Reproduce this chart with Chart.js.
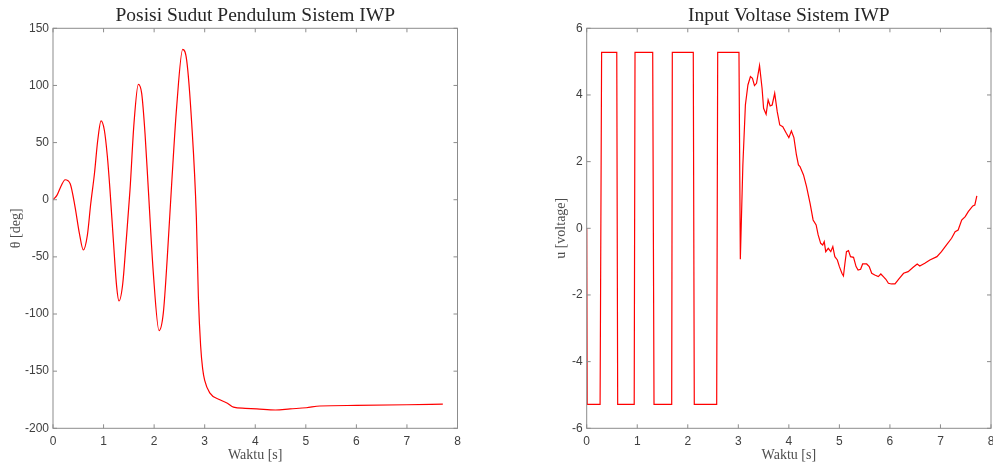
<!DOCTYPE html>
<html>
<head>
<meta charset="utf-8">
<script src="https://cdn.jsdelivr.net/npm/chart.js@4"></script>
<style>
  html, body { margin: 0; padding: 0; background: #fff; overflow: hidden; }
  body { width: 993px; height: 464px; position: relative; }
  canvas { position: absolute; top: 0; }
  #thetaChart { left: 0; }
  #voltChart { left: 533px; }
</style>
</head>
<body>
<canvas id="thetaChart" width="496" height="464"></canvas>
<canvas id="voltChart" width="480" height="464"></canvas>
<script>
// pendulum angle theta [deg] vs time [s]
const thetaTime = [0, 0.08, 0.16, 0.24, 0.34, 0.435, 0.52, 0.60, 0.68, 0.745,
  0.82, 0.885, 0.95, 1.015, 1.075, 1.127, 1.193, 1.259, 1.305, 1.378,
  1.444, 1.523, 1.602, 1.688, 1.754, 1.82, 1.886, 1.984, 2.097, 2.182,
  2.261, 2.347, 2.446, 2.565, 2.644, 2.743, 2.835, 2.875, 2.92, 2.96,
  3.0, 3.1, 3.3, 3.45, 3.57, 3.8, 4.03, 4.4, 4.69, 5.01,
  5.28, 6.0, 7.0, 7.71];
const thetaDeg = [0, 4, 12, 17.5, 14, -6, -29, -44, -31, -4,
  23, 52, 69, 61, 38, 8.6, -35, -76, -88.6, -74,
  -38, 8.6, 67, 101, 93, 58, 8.6, -64, -114.5, -99,
  -50, 14, 81.5, 131.5, 122, 67, -15, -85, -128, -148,
  -158, -169, -175, -178, -181.5, -182.5, -183, -184, -183, -182,
  -180.5, -180, -179.4, -178.8];

// control input u [V] vs time [s]
const voltTime = [0, 0.01, 0.265, 0.295, 0.595, 0.613, 0.94, 0.956, 1.306, 1.332,
  1.682, 1.694, 2.109, 2.129, 2.572, 2.592, 3.013, 3.04, 3.09, 3.14,
  3.19, 3.24, 3.28, 3.32, 3.36, 3.42, 3.47, 3.50, 3.55, 3.59,
  3.63, 3.67, 3.72, 3.77, 3.82, 3.88, 3.95, 4.00, 4.05, 4.10,
  4.15, 4.19, 4.22, 4.29, 4.35, 4.42, 4.48, 4.54, 4.58, 4.63,
  4.67, 4.70, 4.73, 4.78, 4.83, 4.87, 4.91, 4.96, 5.00, 5.05,
  5.08, 5.11, 5.14, 5.18, 5.22, 5.28, 5.33, 5.37, 5.42, 5.46,
  5.54, 5.59, 5.64, 5.70, 5.77, 5.82, 5.87, 5.92, 5.97, 6.03,
  6.10, 6.17, 6.27, 6.36, 6.46, 6.54, 6.59, 6.69, 6.79, 6.93,
  7.02, 7.12, 7.22, 7.29, 7.35, 7.42, 7.49, 7.55, 7.64, 7.68,
  7.72];
const voltValue = [0, -5.28, -5.28, 5.28, 5.28, -5.28, -5.28, 5.28, 5.28, -5.28,
  -5.28, 5.28, 5.28, -5.28, -5.28, 5.28, 5.28, -0.93, 1.9, 3.70,
  4.30, 4.55, 4.50, 4.28, 4.35, 4.88, 4.20, 3.60, 3.42, 3.85,
  3.67, 3.70, 4.05, 3.50, 3.10, 3.05, 2.85, 2.72, 2.92, 2.72,
  2.20, 1.90, 1.85, 1.60, 1.25, 0.75, 0.25, 0.10, -0.20, -0.45,
  -0.50, -0.40, -0.70, -0.60, -0.70, -0.55, -0.85, -0.95, -1.15, -1.35,
  -1.43, -1.05, -0.70, -0.67, -0.85, -0.87, -1.15, -1.25, -1.23, -1.07,
  -1.07, -1.15, -1.35, -1.40, -1.45, -1.37, -1.45, -1.53, -1.65, -1.67,
  -1.67, -1.53, -1.35, -1.30, -1.17, -1.07, -1.13, -1.05, -0.95, -0.85,
  -0.70, -0.50, -0.30, -0.10, -0.05, 0.25, 0.35, 0.50, 0.67, 0.70,
  0.97];

// tick labels
const timeTicks = [0, 1, 2, 3, 4, 5, 6, 7, 8];
const thetaTicks = [-200, -150, -100, -50, 0, 50, 100, 150];
const voltTicks = [-6, -4, -2, 0, 2, 4, 6];

const axisColor = "#8c8c8c";
const tickColor = "#404040";
const serif = "'Liberation Serif', 'Times New Roman', serif";
const sans = "'Liberation Sans', Arial, sans-serif";

// matlab style box with inward ticks on all four sides
const boxTicks = {
  id: "boxTicks",
  afterDraw(chart) {
    const { ctx, chartArea: a, scales } = chart;
    const len = 4;
    ctx.save();
    ctx.strokeStyle = axisColor;
    ctx.lineWidth = 1;
    ctx.strokeRect(a.left, a.top, a.right - a.left, a.bottom - a.top);
    ctx.beginPath();
    scales.x.ticks.forEach((t) => {
      const px = scales.x.getPixelForValue(t.value);
      ctx.moveTo(px, a.bottom);
      ctx.lineTo(px, a.bottom - len);
      ctx.moveTo(px, a.top);
      ctx.lineTo(px, a.top + len);
    });
    scales.y.ticks.forEach((t) => {
      const py = scales.y.getPixelForValue(t.value);
      ctx.moveTo(a.left, py);
      ctx.lineTo(a.left + len, py);
      ctx.moveTo(a.right, py);
      ctx.lineTo(a.right - len, py);
    });
    ctx.stroke();
    ctx.restore();
  },
};

function makeChart(el, opts) {
  return new Chart(el, {
    type: "line",
    data: {
      datasets: [
        {
          data: opts.xs.map((x, i) => ({ x, y: opts.ys[i] })),
          borderColor: "#ff0000",
          borderWidth: 1.2,
          pointRadius: 0,
          fill: false,
          tension: opts.smooth ? 0.4 : 0,
          cubicInterpolationMode: opts.smooth ? "monotone" : "default",
        },
      ],
    },
    options: {
      responsive: false,
      animation: false,
      events: [],
      layout: { padding: { left: 0, right: opts.padRight, top: 0, bottom: 0 } },
      plugins: {
        legend: { display: false },
        tooltip: { enabled: false },
        title: {
          display: true,
          fullSize: false,
          text: opts.title,
          color: "#262626",
          font: { family: serif, size: 19.5, weight: "normal", lineHeight: 1.2 },
          padding: { top: 4, bottom: 0.9 },
        },
      },
      scales: {
        x: {
          type: "linear",
          min: 0,
          max: 8,
          afterBuildTicks: (s) => {
            s.ticks = timeTicks.map((v) => ({ value: v }));
          },
          afterFit: (s) => {
            s.height = 35.7;
          },
          grid: { display: false, drawTicks: false },
          border: { display: false },
          ticks: {
            color: tickColor,
            font: { family: sans, size: 12 },
            padding: 6,
            maxRotation: 0,
            autoSkip: false,
          },
          title: {
            display: true,
            text: "Waktu [s]",
            color: "#4d4d4d",
            font: { family: serif, size: 14, lineHeight: 1.2 },
            padding: { top: 0, bottom: 0 },
          },
        },
        y: {
          type: "linear",
          min: opts.yTicks[0],
          max: opts.yTicks[opts.yTicks.length - 1],
          afterBuildTicks: (s) => {
            s.ticks = opts.yTicks.map((v) => ({ value: v }));
          },
          afterFit: (s) => {
            s.width = opts.yWidth;
          },
          grid: { display: false, drawTicks: false },
          border: { display: false },
          ticks: {
            color: tickColor,
            font: { family: sans, size: 12 },
            padding: 4,
            autoSkip: false,
          },
          title: {
            display: true,
            text: opts.yTitle,
            color: "#4d4d4d",
            font: { family: serif, size: 14, lineHeight: 1.2 },
            padding: { top: opts.yTitlePad, bottom: 0 },
          },
        },
      },
    },
    plugins: [boxTicks],
  });
}

makeChart(document.getElementById("thetaChart"), {
  xs: thetaTime,
  ys: thetaDeg,
  smooth: true,
  title: "Posisi Sudut Pendulum Sistem IWP",
  yTitle: "θ [deg]",
  yTicks: thetaTicks,
  yWidth: 53,
  yTitlePad: 7.6,
  padRight: 38.5,
});

makeChart(document.getElementById("voltChart"), {
  xs: voltTime,
  ys: voltValue,
  smooth: false,
  title: "Input Voltase Sistem IWP",
  yTitle: "u [voltage]",
  yTicks: voltTicks,
  yWidth: 53.7,
  yTitlePad: 20.3,
  padRight: 22,
});
</script>
</body>
</html>
